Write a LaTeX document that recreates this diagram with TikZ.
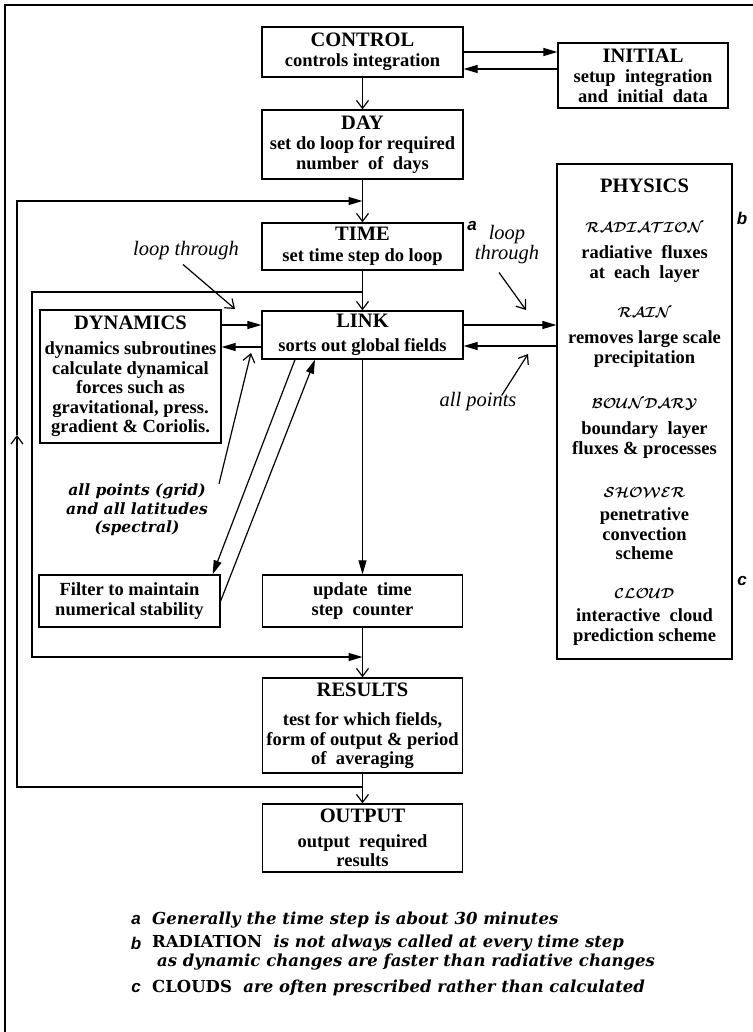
\RequirePackage{fix-cm}
\documentclass[tikz,border=0pt]{standalone}
\usepackage{fontspec}
\setmainfont{Liberation Serif}
\newfontfamily\notefont{DejaVu Serif}
\newfontfamily\tagfont{Liberation Sans}
\usetikzlibrary{arrows.meta}

\newcommand{\ttl}[1]{{\fontsize{20.5}{21}\selectfont #1}}
\newcommand{\physname}[1]{{\fontsize{14.5}{15}\selectfont\boldmath$\mathcal{#1}$}}

\tikzset{
  box/.style={draw, line width=1.3pt, inner sep=0pt, align=center,
    font=\bfseries\fontsize{18.5}{19.5}\selectfont},
  txt/.style={inner sep=0pt, align=center, font=\bfseries\fontsize{18.5}{19.5}\selectfont},
  lbl/.style={inner sep=0pt, align=center, font=\itshape\fontsize{20.5}{20}\selectfont},
  bilbl/.style={inner sep=0pt, align=center, font=\notefont\bfseries\itshape\fontsize{15.5}{18.5}\selectfont},
  note/.style={inner sep=0pt, anchor=west, align=left, font=\notefont\bfseries\itshape\fontsize{16.5}{19}\selectfont},
  tag/.style={inner sep=0pt, font=\tagfont\bfseries\itshape\fontsize{17}{17}\selectfont},
  opn/.style={line width=1.2pt, -{Straight Barb[length=8pt,width=12pt,line width=1.2pt]}},
  fwd/.style={line width=1.2pt, -{Triangle[length=14pt,width=8pt]}},
  ptr/.style={line width=1.2pt, -{Straight Barb[length=8pt,width=12pt,line width=1.2pt]}},
}

\begin{document}
\begin{tikzpicture}[x=1pt,y=-1pt]
\useasboundingbox (0,0) rectangle (752,1032);
\draw[line width=1.3pt] (5,1040) -- (5,5) -- (760,5);

% main column
\node[box, minimum width=201pt, minimum height=50pt] (ctrl) at (362.5,52)
  {\ttl{CONTROL}\\[1pt] controls integration};
\node[box, minimum width=170pt, minimum height=65pt] (init) at (643,75.5)
  {\ttl{INITIAL}\\[1pt] setup~~integration\\and~~initial~~data};
\node[box, minimum width=201pt, minimum height=69pt] (day) at (362.5,144.5)
  {\ttl{DAY}\\[1pt] set do loop for required\\number~~of~~days};
\node[box, minimum width=201pt, minimum height=47pt] (time) at (362.5,246.5)
  {\ttl{TIME}\\[1pt] set time step do loop};
\node[box, minimum width=201pt, minimum height=48pt] (link) at (362.5,335)
  {\ttl{LINK}\\[4pt] sorts out global fields};
\node[box, minimum width=181pt, minimum height=133pt] (dyn) at (130.5,376.5)
  {\ttl{DYNAMICS}\\[6pt] dynamics subroutines\\calculate dynamical\\forces such as\\gravitational, press.\\gradient \& Coriolis.};
\node[box, minimum width=181pt, minimum height=52pt] (filt) at (129.5,601)
  {Filter to maintain\\numerical stability};
\node[box, minimum width=200pt, minimum height=52pt] (upd) at (362.5,601)
  {update~~time\\step~~counter};
\node[box, minimum width=200pt, minimum height=95pt] (res) at (362.5,725.5)
  {\ttl{RESULTS}\\[10pt] test for which fields,\\form of output \& period\\of~~averaging};
\node[box, minimum width=200pt, minimum height=68pt] (out) at (362.5,838)
  {\ttl{OUTPUT}\\[5pt] output~~required\\results};

% PHYSICS
\node[box, minimum width=175pt, minimum height=495pt] (phys) at (644.5,411.5) {};
\node[txt] (physT) at (644.5,186) {\ttl{PHYSICS}};
\node[txt] (radN) at (644.5,228) {\physname{RADIATION}};
\node[txt] (radB) at (644.5,264) {radiative~~fluxes\\at~~each~~layer};
\node[txt] (rainN) at (644.5,313) {\physname{RAIN}};
\node[txt] (rainB) at (644.5,349) {removes large scale\\precipitation};
\node[txt] (bndN) at (644.5,404) {\physname{BOUNDARY}};
\node[txt] (bndB) at (644.5,440) {boundary~~layer\\fluxes \& processes};
\node[txt] (shwN) at (644.5,493) {\physname{SHOWER}};
\node[txt] (shwB) at (644.5,534) {penetrative\\convection\\scheme};
\node[txt] (cldN) at (644.5,594) {\physname{CLOUD}};
\node[txt] (cldB) at (644.5,627) {interactive~~cloud\\prediction scheme};

% labels
\node[lbl] (loopL) at (186,251) {loop through};
\node[lbl] (loopR) at (507,245) {loop\\through};
\node[lbl] (ptsR) at (478,402) {all points};
\node[bilbl] (ptsG) at (137,510) {all points (grid)\\and all latitudes\\(spectral)};
\node[tag] (tagA) at (472,226) {a};
\node[tag] (tagB) at (742,218) {b};
\node[tag] (tagC) at (742,581) {c};

% connectors
\draw[fwd] (ctrl.east) -- (ctrl.east -| init.west);
\draw[fwd] (init.west |- 0,69) -- (ctrl.east |- 0,69);
\draw[opn] (ctrl.south) -- (day.north);
\draw[opn] (day.south) -- (time.north);
\draw[opn] (time.south) -- (link.north);
\draw[fwd] (link.south) -- (upd.north);
\draw[opn] (upd.south) -- (res.north);
\draw[opn] (res.south) -- (out.north);

\draw[fwd] (dyn.east |- 0,325) -- (link.west |- 0,325);
\draw[fwd] (link.west |- 0,347) -- (dyn.east |- 0,347);
\draw[fwd] (link.east |- 0,325) -- (phys.west |- 0,325);
\draw[fwd] (phys.west |- 0,346) -- (link.east |- 0,346);

\draw[fwd] ([xshift=-67.5pt]link.south) -- ([xshift=-8pt]filt.north east);
\draw[fwd] (filt.east) -- ([xshift=-47.5pt]link.south);

% loops
\coordinate (inTop) at (time.south |- 0,292);
\coordinate (inBot) at (upd.south |- 0,657);
\draw[fwd] (inTop) -| (32,657) -- (inBot);
\coordinate (outBot) at (res.south |- 0,787);
\coordinate (outTop) at (day.south |- 0,201);
\draw[opn] (outBot) -| (17,435);
\draw[fwd] (17,435) |- (outTop);

% pointers
\coordinate (loopLtip) at (235,309);
\coordinate (loopRtip) at (526,310);
\coordinate (ptsRtip) at (528,354);
\coordinate (ptsGtip) at (251,353);
\draw[ptr] ([xshift=-3pt,yshift=-4pt]loopL.south) -- (loopLtip);
\draw[ptr] ([xshift=-8pt,yshift=-8pt]loopR.south) -- (loopRtip);
\draw[ptr] ([xshift=-15pt,yshift=-3pt]ptsR.north east) -- (ptsRtip);
\draw[ptr] ([xshift=11pt]ptsG.north east) -- (ptsGtip);

% notes
\node[tag] (fnA) at (136,920) {a};
\node[note] (fnAt) at (152,920) {Generally the time step is about 30 minutes};
\node[tag] (fnB) at (136,943) {b};
\node[note] (fnBt) at (152,943) {{\upshape RADIATION}\ \ is not always called at every time step};
\node[note] (fnBu) at (157,962) {as dynamic changes are faster than radiative changes};
\node[tag] (fnC) at (136,988) {c};
\node[note] (fnCt) at (152,988) {{\upshape CLOUDS}\ \ are often prescribed rather than calculated};
\end{tikzpicture}
\end{document}
